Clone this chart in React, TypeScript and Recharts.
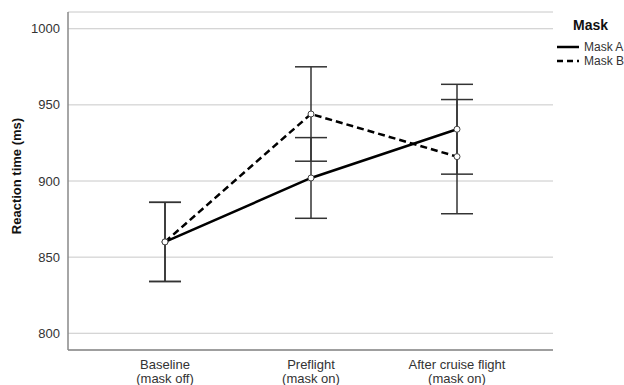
import React from 'react';
import { LineChart, Line, XAxis, YAxis, CartesianGrid, ErrorBar, Label } from 'recharts';

const categories = ['Baseline|(mask off)', 'Preflight|(mask on)', 'After cruise flight|(mask on)'];
const maskA = [860, 902, 934];
const maskAErr = [26, 26.5, 29.5];
const maskB = [860, 944, 916];
const maskBErr = [26, 31, 37.5];
const yTicks = [800, 850, 900, 950, 1000];
const legendTitle = 'Mask';
const seriesNames = ['Mask A', 'Mask B'];

const data = categories.map((c, i) => ({
  name: c,
  a: maskA[i],
  aErr: maskAErr[i],
  b: maskB[i],
  bErr: maskBErr[i],
}));

const FONT = 'Arial, "Liberation Sans", sans-serif';

const XTick = (props: any) => {
  const { x, y, payload } = props;
  const lines = String(payload.value).split('|');
  return (
    <text x={x} y={y} textAnchor="middle" fill="#333" fontSize={13} fontFamily={FONT}>
      {lines.map((l: string, i: number) => (
        <tspan key={i} x={x} dy={i === 0 ? 11 : 14}>{l}</tspan>
      ))}
    </text>
  );
};

const Dot = (props: any) => {
  const { cx, cy } = props;
  if (cx == null || cy == null) return null;
  return <circle cx={cx} cy={cy} r={3} fill="#fff" stroke="#444" strokeWidth={1} />;
};

export default function App() {
  return (
    <div style={{ position: 'absolute', left: 0, top: 0, width: 624, height: 385, background: '#fff', overflow: 'hidden' }}>
      <LineChart
        width={624}
        height={385}
        data={data}
        margin={{ top: 12, right: 71, bottom: 0, left: 8 }}
      >
        <CartesianGrid vertical={false} stroke="#c8c8c8" strokeWidth={1} />
        <XAxis
          dataKey="name"
          padding={{ left: 97, right: 96 }}
          tick={<XTick />}
          tickLine={false}
          axisLine={{ stroke: '#888', strokeWidth: 1.5 }}
          height={35}
          interval={0}
        />
        <YAxis
          type="number"
          domain={[789, 1011]}
          allowDataOverflow
          ticks={yTicks}
          tickLine={false}
          axisLine={{ stroke: '#888', strokeWidth: 1.5 }}
          tick={{ fill: '#333', fontSize: 13, fontFamily: FONT }}
          width={60}
        >
          <Label
            content={() => (
              <text
                x={21}
                y={176}
                transform="rotate(-90, 21, 176)"
                textAnchor="middle"
                fontSize={13}
                fontWeight="bold"
                fill="#111"
                fontFamily={FONT}
              >
                Reaction time (ms)
              </text>
            )}
          />
        </YAxis>
        <Line
          dataKey="a"
          name={seriesNames[0]}
          stroke="#000"
          strokeWidth={2.5}
          dot={<Dot />}
          activeDot={false}
          isAnimationActive={false}
        >
          <ErrorBar dataKey="aErr" width={16} stroke="#333" strokeWidth={1.5} direction="y" />
        </Line>
        <Line
          dataKey="b"
          name={seriesNames[1]}
          stroke="#000"
          strokeWidth={2.5}
          strokeDasharray="7 4"
          dot={<Dot />}
          activeDot={false}
          isAnimationActive={false}
        >
          <ErrorBar dataKey="bErr" width={16} stroke="#333" strokeWidth={1.5} direction="y" />
        </Line>
      </LineChart>
      <div style={{ position: 'absolute', left: 573, top: 16, fontFamily: FONT, fontSize: 14, fontWeight: 'bold', color: '#111', lineHeight: '18px' }}>
        {legendTitle}
      </div>
      {seriesNames.map((n, i) => (
        <div key={n} style={{ position: 'absolute', left: 557, top: 40 + i * 14, height: 14, display: 'flex', alignItems: 'center', fontFamily: FONT }}>
          <svg width={22} height={14} style={{ display: 'block' }}>
            <line x1={0} x2={22} y1={7} y2={7} stroke="#000" strokeWidth={2.5} strokeDasharray={i === 1 ? '6 4' : undefined} />
          </svg>
          <span style={{ fontSize: 12, color: '#333', marginLeft: 5, whiteSpace: 'nowrap', lineHeight: '14px' }}>{n}</span>
        </div>
      ))}
    </div>
  );
}
